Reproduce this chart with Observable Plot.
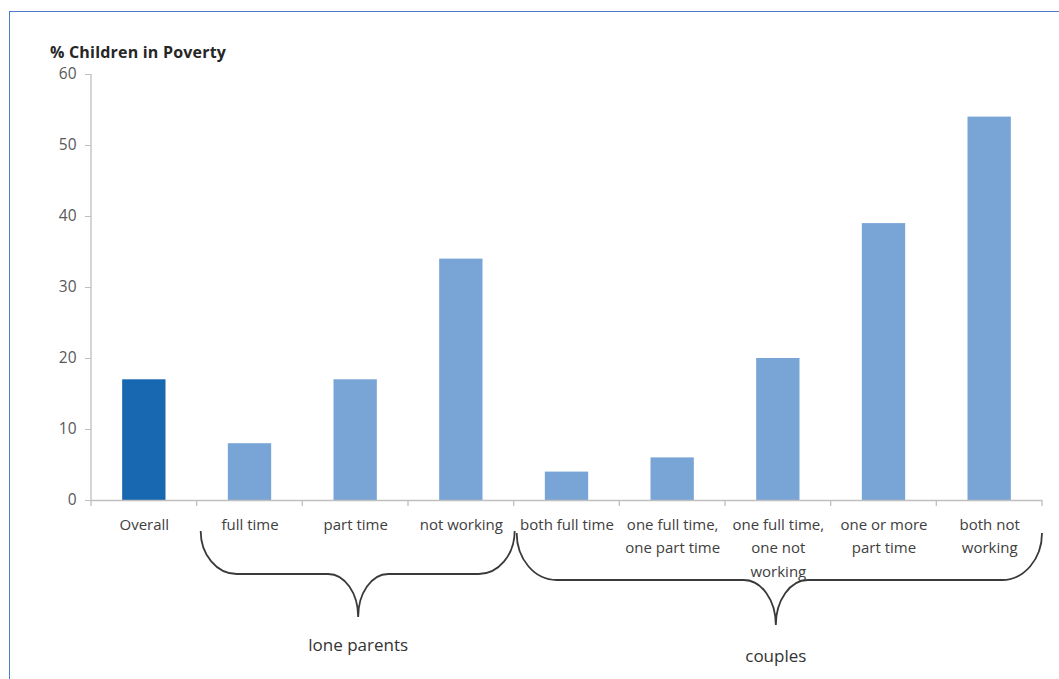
<!DOCTYPE html>
<html>
<head>
<meta charset="utf-8">
<script src="https://cdn.jsdelivr.net/npm/d3@7"></script>
<script src="https://cdn.jsdelivr.net/npm/@observablehq/plot@0.6"></script>
<style>
  body { margin: 0; overflow: hidden; background: #fff; }
  #wrap { position: relative; width: 1059px; height: 679px; overflow: hidden; }
  #border { position: absolute; left: 9px; top: 11px; width: 1100px; height: 720px; border: 1.5px solid #4a7cc7; box-sizing: border-box; }
  #title { position: absolute; left: 50px; top: 42px; font: bold 16px "Open Sans", sans-serif; line-height: 20px; color: #262626; white-space: nowrap; letter-spacing: 0.2px; }
  #chart { position: absolute; left: 0; top: 0; }
</style>
</head>
<body>
<div id="wrap">
  <div id="border"></div>
  <div id="chart"></div>
  <div id="title">% Children in Poverty</div>
</div>
<script>
// ---- data ----
const categories = ["Overall", "full time", "part time", "not working", "both full time",
  "one full time, one part time", "one full time, one not working", "one or more part time", "both not working"];
const tickLabels = ["Overall", "full time", "part time", "not working", "both full time",
  "one full time,\none part time", "one full time,\none not\nworking", "one or more\npart time", "both not\nworking"];
const values = [17, 8, 17, 34, 4, 6, 20, 39, 54];
const kinds = ["overall", "group", "group", "group", "group", "group", "group", "group", "group"];
const yTicks = [0, 10, 20, 30, 40, 50, 60];
const groupNames = ["lone parents", "couples"];
const groupFirst = ["full time", "both full time"];
const groupLast = ["not working", "both not working"];

const table = categories.map((c, i) => ({category: c, value: values[i], kind: kinds[i], label: tickLabels[i]}));

const chart = Plot.plot({
  width: 1059,
  height: 679,
  marginLeft: 91,
  marginRight: 17,
  marginTop: 74,
  marginBottom: 179,
  style: {fontFamily: "'Open Sans', sans-serif", fontSize: "15.5px", color: "#595959", background: "transparent"},
  x: {domain: categories, paddingInner: 0.59, paddingOuter: 0.295, round: false, axis: null},
  y: {domain: [0, 60], ticks: yTicks, tickSize: 6, tickPadding: 9, label: null},
  color: {domain: ["overall", "group"], range: ["#1767b1", "#78a5d5"]},
  marks: [
    Plot.barY(table, {x: "category", y: "value", fill: "kind"}),
    Plot.ruleY([0], {stroke: "#bfbfbf", strokeWidth: 1.3}),
    Plot.text(table, {x: "category", y: 0, text: "label", dy: 13, lineAnchor: "top",
      lineHeight: 1.55, fill: "#404040", fontSize: 15})
  ]
});
document.getElementById("chart").appendChild(chart);

// ---- post-render decorations computed from the scales ----
const svg = d3.select(chart.tagName.toLowerCase() === "svg" ? chart : chart.querySelector("svg"));
svg.selectAll('[aria-label^="y-axis"] line, [aria-label^="y-axis"] path').attr("stroke", "#bfbfbf");
svg.selectAll('[aria-label^="y-axis"] text').attr("fill", "#595959");

const xs = chart.scale("x");
const ys = chart.scale("y");
const bw = xs.bandwidth;
const step = xs.step;
const gap = (step - bw) / 2;
const left = i => xs.apply(categories[i]) - gap;
const right = i => xs.apply(categories[i]) + bw + gap;
const y0 = ys.apply(0);
const yTop = ys.apply(60);

// y axis line
svg.append("line").attr("x1", left(0)).attr("x2", left(0)).attr("y1", yTop).attr("y2", y0)
  .attr("stroke", "#bfbfbf").attr("stroke-width", 1.3);
// category boundary ticks
const bounds = categories.map((c, i) => left(i)).concat([right(categories.length - 1)]);
svg.append("g").selectAll("line").data(bounds).join("line")
  .attr("x1", d => d).attr("x2", d => d).attr("y1", y0).attr("y2", y0 + 6)
  .attr("stroke", "#bfbfbf").attr("stroke-width", 1.3);

// braces
const braceStyle = [
  {top: 31, flat: 74, tip: 117, r: 36, r2: 30, inset: 4, shift: 3, label: 145},
  {top: 33, flat: 80, tip: 125, r: 40, r2: 32, inset: 3, shift: -2, label: 156}
];
const k = 0.552;
groupNames.forEach((name, g) => {
  const s = braceStyle[g];
  const i0 = categories.indexOf(groupFirst[g]);
  const i1 = categories.indexOf(groupLast[g]);
  const xL = left(i0) + s.inset;
  const xR = right(i1) + (g === 0 ? 1 : 0);
  const xc = (left(i0) + right(i1)) / 2 + s.shift;
  const t = y0 + s.top, h = y0 + s.flat, p = y0 + s.tip;
  const d = [
    `M${xL},${t}`,
    `C${xL},${t + k * (h - t)} ${xL + s.r - k * s.r},${h} ${xL + s.r},${h}`,
    `L${xc - s.r2},${h}`,
    `C${xc - s.r2 + k * s.r2},${h} ${xc},${p - k * (p - h)} ${xc},${p}`,
    `C${xc},${p - k * (p - h)} ${xc + s.r2 - k * s.r2},${h} ${xc + s.r2},${h}`,
    `L${xR - s.r},${h}`,
    `C${xR - s.r + k * s.r},${h} ${xR},${t + k * (h - t)} ${xR},${t}`
  ].join(" ");
  svg.append("path").attr("d", d).attr("fill", "none").attr("stroke", "#3a3a3a").attr("stroke-width", 1.8);
  svg.append("text").attr("x", xc).attr("y", y0 + s.label).attr("dy", "0.35em")
    .attr("text-anchor", "middle").attr("fill", "#333").attr("font-size", 17)
    .attr("font-family", "'Open Sans', sans-serif").text(name);
});
</script>
</body>
</html>
